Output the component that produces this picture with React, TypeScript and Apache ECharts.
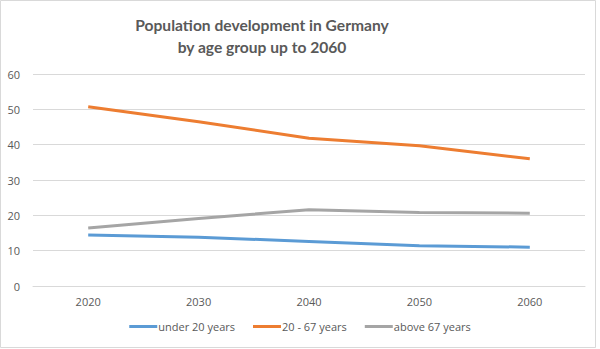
import React, { useEffect, useRef } from "react";
import * as echarts from "echarts";

const categories = ["2020", "2030", "2040", "2050", "2060"];
const under20 = [14.4, 13.8, 12.6, 11.4, 11.0];
const age20to67 = [50.7, 46.5, 41.8, 39.7, 36.0];
const above67 = [16.4, 19.1, 21.6, 20.8, 20.6];
const titleLines = ["Population development in Germany", "by age group up to 2060"];

const FONT = "'Open Sans', 'Noto Sans', sans-serif";
const TITLE_FONT = "Lato, 'Open Sans', sans-serif";
const TEXT = "#595959";

export default function App() {
  const ref = useRef<HTMLDivElement>(null);
  useEffect(() => {
    if (!ref.current) return;
    const chart = echarts.init(ref.current, undefined, { renderer: "svg" });
    const mk = (name: string, data: number[], color: string) => ({
      name,
      type: "line",
      data,
      symbol: "none",
      lineStyle: { width: 3, color },
      itemStyle: { color },
    });
    chart.setOption({
      animation: false,
      backgroundColor: "#fff",
      textStyle: { fontFamily: FONT },
      graphic: [
        {
          type: "rect",
          shape: { x: 0.5, y: 0.5, width: 595, height: 347 },
          style: { fill: "none", stroke: "#d9d9d9", lineWidth: 1 },
          silent: true,
        },
        {
          type: "text",
          x: 262,
          y: 14,
          style: {
            text: titleLines.join("\n"),
            fontFamily: TITLE_FONT,
            fontSize: 15.6,
            fontWeight: "bold",
            fill: TEXT,
            textAlign: "center",
            lineHeight: 22,
          },
        },
      ],
      grid: { left: 33, right: 15, top: 74, bottom: 63, containLabel: false },
      xAxis: {
        type: "category",
        data: categories,
        boundaryGap: true,
        axisLine: { show: true, lineStyle: { color: "#d9d9d9" } },
        axisTick: { show: false },
        axisLabel: { color: TEXT, fontSize: 11, margin: 10, fontFamily: FONT },
      },
      yAxis: {
        type: "value",
        min: 0,
        max: 60,
        interval: 10,
        axisLine: { show: false },
        axisTick: { show: false },
        splitLine: { lineStyle: { color: "#d9d9d9", width: 1 } },
        axisLabel: { color: TEXT, fontSize: 11, margin: 13, fontFamily: FONT },
      },
      legend: {
        bottom: 12,
        left: "center",
        icon: "rect",
        itemWidth: 28,
        itemHeight: 3,
        itemGap: 18,
        textStyle: { color: TEXT, fontSize: 11, fontFamily: FONT, padding: [0, 0, 0, -4] },
        data: ["under 20 years", "20 - 67 years", "above 67 years"],
      },
      series: [
        mk("under 20 years", under20, "#5B9BD5"),
        mk("20 - 67 years", age20to67, "#ED7D31"),
        mk("above 67 years", above67, "#A5A5A5"),
      ],
    });
    return () => chart.dispose();
  }, []);
  return (
    <div
      ref={ref}
      style={{ position: "absolute", left: 0, top: 0, width: 600, height: 349 }}
    />
  );
}
